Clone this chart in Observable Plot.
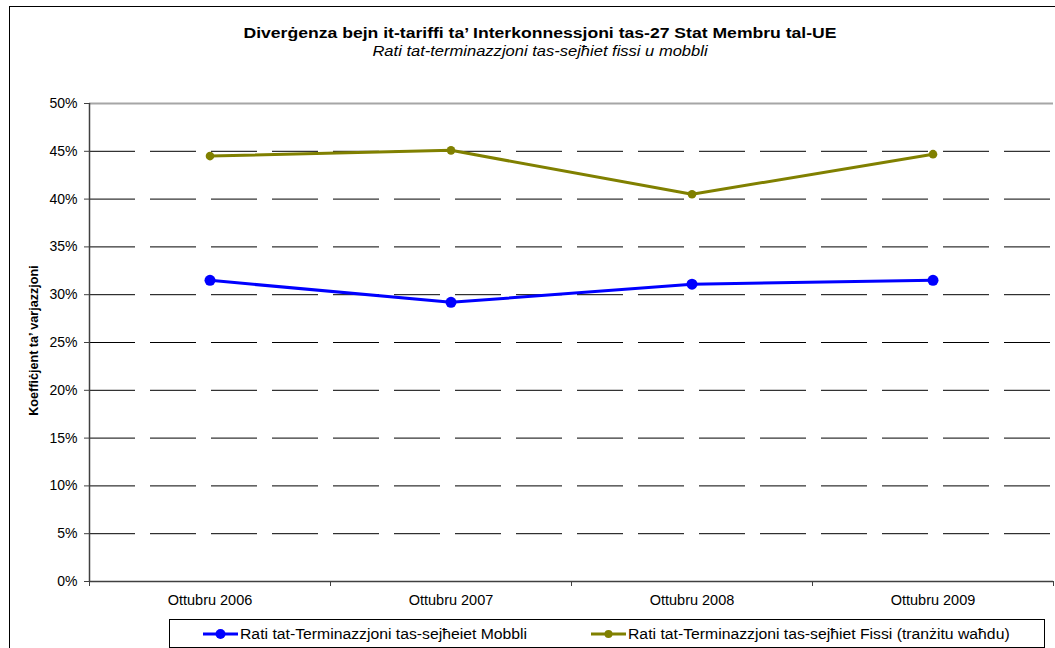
<!DOCTYPE html>
<html>
<head>
<meta charset="utf-8">
<script src="https://cdn.jsdelivr.net/npm/d3@7"></script>
<script src="https://cdn.jsdelivr.net/npm/@observablehq/plot@0.6"></script>
<style>
  html, body { margin: 0; padding: 0; background: #fff; }
  body { width: 1055px; height: 648px; overflow: hidden; position: relative; font-family: "Liberation Sans", Arial, sans-serif; }
  #frame { position: absolute; left: 9px; top: 6px; width: 1100px; height: 700px; border-left: 1.5px solid #000; border-top: 1.5px solid #000; }
  #title { position: absolute; left: 0; width: 1080px; top: 25px; text-align: center; font-weight: bold; font-size: 14px; color: #000; transform: scaleX(1.256); transform-origin: 540px 0; }
  #subtitle { position: absolute; left: 0; width: 1080px; top: 43px; text-align: center; font-style: italic; font-size: 14px; color: #000; transform: scaleX(1.18); transform-origin: 540px 0; }
  #chart { position: absolute; left: 0; top: 70px; }
  #legend { position: absolute; left: 169px; top: 619px; width: 874px; height: 27px; border: 1px solid #000; background: #fff; font-size: 14px; }
  .item { position: absolute; top: 0; height: 27px; display: flex; align-items: center; white-space: nowrap; }
  .item svg { display: block; }
  .item span { display: inline-block; margin-left: 2px; transform: scaleX(1.125); transform-origin: 0 50%; }
</style>
</head>
<body>
<div id="frame"></div>
<div id="title">Diverġenza bejn it-tariffi ta’ Interkonnessjoni tas-27 Stat Membru tal-UE</div>
<div id="subtitle">Rati tat-terminazzjoni tas-sejħiet fissi u mobbli</div>
<div id="chart"></div>
<div id="legend"></div>
<script>
const periods = ["Ottubru 2006", "Ottubru 2007", "Ottubru 2008", "Ottubru 2009"];
const mobbli = [31.5, 29.2, 31.1, 31.5];
const fissi = [44.5, 45.1, 40.5, 44.7];
const seriesNames = ["Rati tat-Terminazzjoni tas-sejħeiet Mobbli", "Rati tat-Terminazzjoni tas-sejħiet Fissi (tranżitu waħdu)"];
const seriesColors = ["#0000ff", "#808000"];
const yTicks = [0, 5, 10, 15, 20, 25, 30, 35, 40, 45, 50];
const yLabel = "Koeffiċjent ta’ varjazzjoni";

const rows = periods.map((p, i) => ({ x: i + 0.5, period: p, mob: mobbli[i], fis: fissi[i] }));

const chart = Plot.plot({
  width: 1055,
  height: 549,
  marginLeft: 89,
  marginRight: 2,
  marginTop: 33,
  marginBottom: 38,
  style: { fontFamily: '"Liberation Sans", Arial, sans-serif', fontSize: "14px", color: "#000", background: "transparent", overflow: "visible" },
  x: { domain: [0, periods.length] },
  y: { domain: [0, 50] },
  marks: [
    Plot.ruleY(yTicks.filter(d => d > 0 && d < 50), { stroke: "#000", strokeWidth: 1, strokeDasharray: "46,15" }),
    Plot.ruleY([50], { stroke: "#a6a6a6", strokeWidth: 2 }),
    Plot.ruleX([0], { stroke: "#404040", strokeWidth: 1.5 }),
    Plot.ruleY([0], { stroke: "#404040", strokeWidth: 1.5 }),
    Plot.axisY({ ticks: yTicks, tickFormat: d => d + "%", tickSize: 5, tickPadding: 7, stroke: "#404040", label: null }),
    Plot.axisX({ ticks: d3.range(periods.length + 1), tickFormat: () => "", tickSize: 5, stroke: "#404040", label: null }),
    Plot.axisX({ ticks: rows.map(r => r.x), tickFormat: d => periods[Math.floor(d)], tickSize: 0, tickPadding: 13, fontSize: 14.5, label: null }),
    Plot.text([yLabel], { frameAnchor: "left", textAnchor: "middle", dx: -56, dy: -2, rotate: -90, fontWeight: "bold", fontSize: 12.6 }),
    Plot.line(rows, { x: "x", y: "fis", stroke: seriesColors[1], strokeWidth: 3 }),
    Plot.dot(rows, { x: "x", y: "fis", fill: seriesColors[1], r: 4.3 }),
    Plot.line(rows, { x: "x", y: "mob", stroke: seriesColors[0], strokeWidth: 3 }),
    Plot.dot(rows, { x: "x", y: "mob", fill: seriesColors[0], r: 5.5 })
  ]
});
document.getElementById("chart").appendChild(chart);

// Legend
const legend = document.getElementById("legend");
const itemLeft = [33, 421];
const dotR = [5, 4];
seriesNames.forEach((name, i) => {
  const item = document.createElement("div");
  item.className = "item";
  item.style.left = itemLeft[i] + "px";
  item.innerHTML = `<svg width="35" height="12"><line x1="0" y1="6" x2="35" y2="6" stroke="${seriesColors[i]}" stroke-width="3"/><circle cx="17.5" cy="6" r="${dotR[i]}" fill="${seriesColors[i]}"/></svg><span>${name}</span>`;
  legend.appendChild(item);
});
</script>
</body>
</html>
